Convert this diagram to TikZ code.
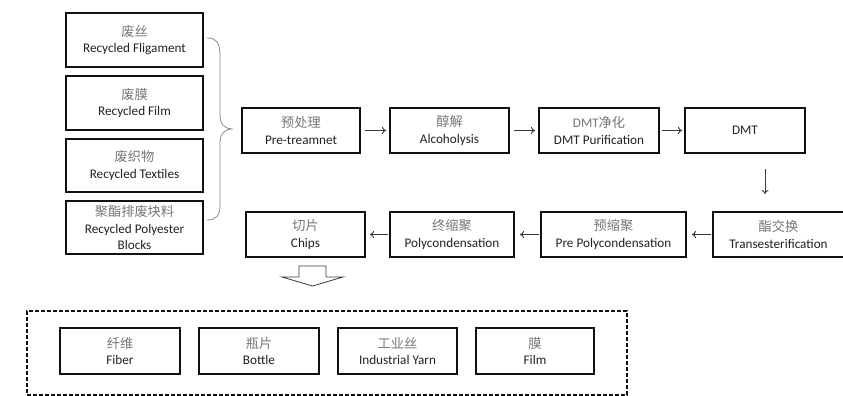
\documentclass[tikz,border=0pt]{standalone}
\usepackage{fontspec}
\setmainfont{Carlito}
\newfontfamily\cjk{Noto Sans CJK SC}
\usepackage{xcolor}
\usetikzlibrary{positioning, arrows.meta}
\definecolor{boxline}{HTML}{111111}
\definecolor{zhtext}{HTML}{777777}
\definecolor{entext}{HTML}{222222}
\definecolor{arrowline}{HTML}{3a3a3a}
\definecolor{bracegray}{HTML}{8a8a8a}
\newcommand{\zh}[1]{{\cjk\color{zhtext}#1}}

\begin{document}
\begin{tikzpicture}[x=1pt,y=-1pt, font=\fontsize{13.2}{16.5}\selectfont, text=entext,
  bx/.style={draw=boxline, line width=2pt, align=center, minimum height=45pt, inner sep=1pt},
  src/.style={bx, minimum width=137pt, minimum height=54pt},
  outbox/.style={bx, minimum width=120pt, minimum height=46pt},
  flow/.style={-{To[length=4pt,width=7pt]}, arrowline, line width=0.9pt}]
\fill[white] (0,0) rectangle (843,396);
\useasboundingbox (0,0) rectangle (843,396);

% recycled sources
\node[src] (fil) at (134.5,40) {\zh{废丝}\\Recycled Fligament};
\node[src, below=7pt of fil] (film) {\zh{废膜}\\Recycled Film};
\node[src, below=7pt of film, minimum height=53pt] (tex) {\zh{废织物}\\Recycled Textiles};
\node[src, below=7pt of tex, minimum height=53pt] (blk) {\zh{聚酯排废块料}\\Recycled Polyester\\Blocks};

\draw[bracegray, line width=0.8pt] (207,38) .. controls (216,38) and (220,42) .. (220,55) -- (220,115)
  .. controls (220,125) and (225,129) .. (233,129) .. controls (225,129) and (220,133) .. (220,143)
  -- (220,205) .. controls (220,216) and (216,220) .. (207,220);

% first row
\node[bx, minimum width=118pt] (pre) at (301,130.5) {\zh{预处理}\\Pre-treamnet};
\node[bx, minimum width=119pt, right=28pt of pre] (alc) {\zh{醇解}\\Alcoholysis};
\node[bx, minimum width=120pt, right=28pt of alc] (pur) {{\color{zhtext}DMT\cjk 净化}\\DMT Purification};
\node[bx, minimum width=120pt, right=24pt of pur] (dmt) {DMT};

% second row
\node[bx, minimum width=131pt] (trans) at (778.5,234.5) {\zh{酯交换}\\Transesterification};
\node[bx, minimum width=145pt, left=25pt of trans] (prepoly) {\zh{预缩聚}\\Pre Polycondensation};
\node[bx, minimum width=124pt, left=25pt of prepoly] (poly) {\zh{终缩聚}\\Polycondensation};
\node[bx, minimum width=119pt, left=23pt of poly] (chips) {\zh{切片}\\Chips};

\draw[flow, shorten <=4pt, shorten >=3pt] (pre) -- (alc);
\draw[flow, shorten <=4pt, shorten >=3pt] (alc) -- (pur);
\draw[flow, shorten <=2pt, shorten >=2pt] (pur) -- (dmt);
\draw[flow, shorten <=15pt, shorten >=17pt] ([xshift=20pt]dmt.south) -- ([xshift=20pt]dmt.south |- trans.north);
\draw[flow, shorten <=1pt, shorten >=5pt] (trans) -- (prepoly);
\draw[flow, shorten <=1pt, shorten >=5pt] (prepoly) -- (poly);
\draw[flow, shorten <=1pt, shorten >=4pt] (poly) -- (chips);

% products
\draw[arrowline, line width=0.8pt] (299,266) -- (326,266) -- (326,277) -- (343,277) -- (312.5,286)
  -- (282,277) -- (299,277) -- cycle;
\node[draw=boxline, line width=2pt, dash pattern=on 4pt off 2pt, minimum width=600pt, minimum height=84pt] (uses) at (327,353) {};
\node[outbox] (fib) at (120,351) {\zh{纤维}\\Fiber};
\node[outbox, right=17pt of fib] (btl) {\zh{瓶片}\\Bottle};
\node[outbox, right=17pt of btl, minimum width=119pt] (yarn) {\zh{工业丝}\\Industrial Yarn};
\node[outbox, right=17pt of yarn, minimum width=118pt] (mem) {\zh{膜}\\Film};

\end{tikzpicture}
\end{document}
